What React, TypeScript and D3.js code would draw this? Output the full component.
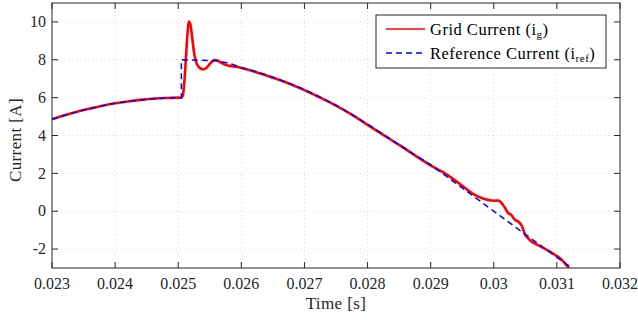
import React from "react";
import * as d3 from "d3";

const timeGrid = [
  0.023, 0.0232, 0.0234, 0.0236, 0.0238, 0.024, 0.0242, 0.0244, 0.0246, 0.0248, 0.025,
  0.02506, 0.02509, 0.02512, 0.02515, 0.02517, 0.02519, 0.02522, 0.02526, 0.0253, 0.02535,
  0.0254, 0.02545, 0.0255, 0.02555, 0.02558, 0.02562, 0.02568, 0.02575, 0.02585, 0.026,
  0.02625, 0.0265, 0.02675, 0.027, 0.02725, 0.0275, 0.02775, 0.028, 0.02825, 0.0285,
  0.02875, 0.029, 0.02925, 0.02945, 0.0297, 0.02985, 0.03, 0.03007, 0.03012, 0.03018,
  0.03023, 0.03027, 0.03034, 0.03039, 0.03044, 0.0305, 0.03055, 0.0306, 0.03073, 0.03089,
  0.03105, 0.0312,
];
const gridCurrent = [
  4.86, 5.07, 5.26, 5.42, 5.57, 5.7, 5.8, 5.88, 5.94, 5.98, 6.0,
  6.02, 6.6, 8.0, 9.5, 10.02, 9.9, 9.2, 8.2, 7.75, 7.55,
  7.5, 7.58, 7.78, 7.94, 7.99, 7.96, 7.85, 7.73, 7.66, 7.57,
  7.33, 7.05, 6.75, 6.4, 6.0, 5.58, 5.1, 4.56, 4.03, 3.5,
  2.95, 2.42, 1.95, 1.47, 0.86, 0.65, 0.55, 0.56, 0.45, 0.17,
  -0.11, -0.17, -0.47, -0.55, -0.75, -1.26, -1.45, -1.61, -1.84, -2.14,
  -2.49, -3.05,
];

const timeRef = [
  0.023, 0.0232, 0.0234, 0.0236, 0.0238, 0.024, 0.0242, 0.0244, 0.0246, 0.0248, 0.02505,
  0.02505, 0.0256, 0.0258, 0.026, 0.02625, 0.0265, 0.02675, 0.027, 0.02725, 0.0275,
  0.02775, 0.028, 0.02825, 0.0285, 0.02875, 0.029, 0.0295, 0.03, 0.0305, 0.031, 0.03124,
];
const refCurrent = [
  4.86, 5.07, 5.26, 5.42, 5.57, 5.7, 5.8, 5.88, 5.94, 5.98, 6.0,
  8.0, 7.95, 7.82, 7.6, 7.36, 7.08, 6.78, 6.43, 6.03, 5.6,
  5.12, 4.6, 4.06, 3.52, 2.98, 2.45, 1.23, 0.0, -1.22, -2.44, -3.0,
];

const xTicks = [0.023, 0.024, 0.025, 0.026, 0.027, 0.028, 0.029, 0.03, 0.031, 0.032];
const yTicks = [-2, 0, 2, 4, 6, 8, 10];

const W = 638;
const H = 320;
const L = 52;
const R = 620;
const T = 3;
const B = 268;
const AX = "#262626";
const FONT = '"Liberation Serif", "DejaVu Serif", serif';

export default function App() {
  const x = d3.scaleLinear().domain([0.023, 0.032]).range([L, R]);
  const y = d3.scaleLinear().domain([-3, 11]).range([B, T]);

  const gridPts: [number, number][] = timeGrid.map((t, i) => [t, gridCurrent[i]]);
  const refPts: [number, number][] = timeRef.map((t, i) => [t, refCurrent[i]]);

  const lineSmooth = d3
    .line<[number, number]>()
    .x((d) => x(d[0]))
    .y((d) => y(d[1]))
    .curve(d3.curveCatmullRom.alpha(0.5));
  const lineLin = d3
    .line<[number, number]>()
    .x((d) => x(d[0]))
    .y((d) => y(d[1]));

  const tickLen = 6;
  const fmtX = (v: number) => String(+v.toFixed(3));
  const ts = { fontFamily: FONT };

  return (
    <svg
      width={W}
      height={H}
      style={{ position: "absolute", left: 0, top: 0, background: "#fff", fontFamily: FONT }}
    >
      <defs>
        <clipPath id="plotClip">
          <rect x={L} y={T} width={R - L} height={B - T} />
        </clipPath>
      </defs>
      <rect x={0} y={0} width={W} height={H} fill="#fff" />

      {/* grid */}
      <g stroke="#dcdcdc" strokeWidth={1} strokeDasharray="1 3">
        {xTicks.slice(1, -1).map((t) => (
          <line key={"gx" + t} x1={x(t)} x2={x(t)} y1={T} y2={B} />
        ))}
        {yTicks.map((v) => (
          <line key={"gy" + v} x1={L} x2={R} y1={y(v)} y2={y(v)} />
        ))}
      </g>

      {/* data */}
      <g clipPath="url(#plotClip)">
        <path d={lineSmooth(gridPts) || ""} fill="none" stroke="#ff0000" strokeWidth={2.6} strokeLinejoin="round" />
        <path d={lineLin(refPts) || ""} fill="none" stroke="#0000ff" strokeWidth={1.5} strokeDasharray="6 4" />
      </g>

      {/* axes box */}
      <rect x={L} y={T} width={R - L} height={B - T} fill="none" stroke={AX} strokeWidth={1} />

      {/* ticks */}
      <g stroke={AX} strokeWidth={1}>
        {xTicks.map((t) => (
          <g key={"tx" + t}>
            <line x1={x(t)} x2={x(t)} y1={B} y2={B - tickLen} />
            <line x1={x(t)} x2={x(t)} y1={T} y2={T + tickLen} />
          </g>
        ))}
        {yTicks.map((v) => (
          <g key={"ty" + v}>
            <line x1={L} x2={L + tickLen} y1={y(v)} y2={y(v)} />
            <line x1={R} x2={R - tickLen} y1={y(v)} y2={y(v)} />
          </g>
        ))}
      </g>

      {/* tick labels */}
      <g fill={AX}>
        {xTicks.map((t) => (
          <text key={"lx" + t} x={x(t)} y={289} textAnchor="middle" style={{ ...ts, fontSize: 16 }}>
            {fmtX(t)}
          </text>
        ))}
        {yTicks.map((v) => (
          <text key={"ly" + v} x={46} y={y(v)} dy="0.33em" textAnchor="end" style={{ ...ts, fontSize: 16 }}>
            {v}
          </text>
        ))}
      </g>

      {/* axis labels */}
      <text x={(L + R) / 2} y={309} textAnchor="middle" fill={AX} style={{ ...ts, fontSize: 17, letterSpacing: 0.4 }}>
        Time [s]
      </text>
      <text
        transform={`translate(21, 140) rotate(-90)`}
        textAnchor="middle"
        fill={AX}
        style={{ ...ts, fontSize: 17, letterSpacing: 0.4 }}
      >
        Current [A]
      </text>

      {/* legend */}
      <g>
        <rect x={376} y={15} width={230} height={53} fill="#fff" stroke={AX} strokeWidth={1} />
        <line x1={386} x2={425} y1={29} y2={29} stroke="#ff0000" strokeWidth={1.5} />
        <line x1={386} x2={425} y1={53} y2={53} stroke="#0000ff" strokeWidth={1.5} strokeDasharray="6 4" />
        <text x={430} y={34.5} fill="#000" style={{ ...ts, fontSize: 16.5, letterSpacing: 0.5 }}>
          Grid Current (i
          <tspan style={{ fontSize: 11 }} dy={3}>g</tspan>
          <tspan dy={-3}>)</tspan>
        </text>
        <text x={430} y={58.5} fill="#000" style={{ ...ts, fontSize: 16.5, letterSpacing: 0.5 }}>
          Reference Current (i
          <tspan style={{ fontSize: 11 }} dy={3}>ref</tspan>
          <tspan dy={-3}>)</tspan>
        </text>
      </g>
    </svg>
  );
}
